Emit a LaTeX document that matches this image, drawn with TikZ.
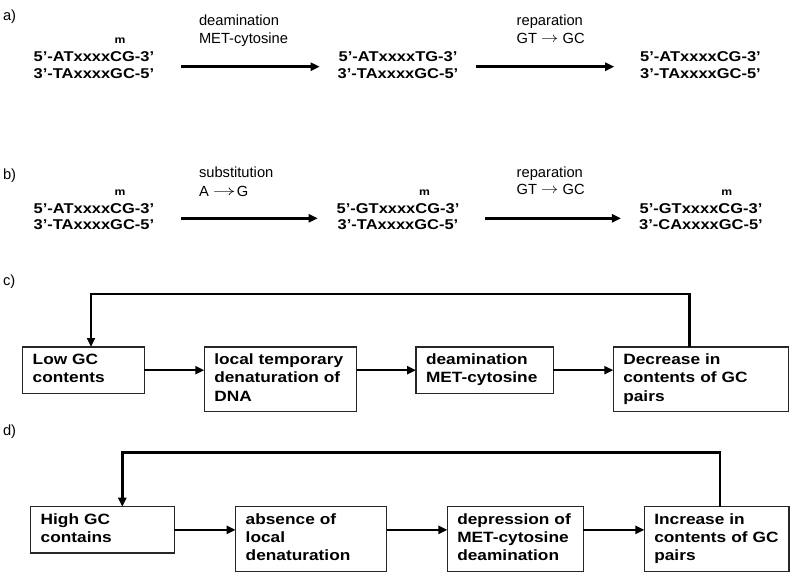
\documentclass[tikz,border=0pt]{standalone}
\usepackage{fontspec}
\usepackage{graphicx}
\setmainfont{Liberation Sans}
\newfontfamily\boxfont[FakeStretch=1.16]{Liberation Sans}
\newcommand{\rarr}[1]{\raisebox{1.3pt}{\scalebox{#1}[1]{$\rightarrow$}}}
\usetikzlibrary{arrows.meta}
\begin{document}
\begin{tikzpicture}[x=1pt,y=-1pt,
  lbl/.style={font=\fontsize{14.7}{17}\selectfont, inner sep=0pt, outer sep=0pt, anchor=base west},
  dna/.style={font=\boxfont\bfseries\fontsize{14.2}{15}\selectfont, inner sep=0pt, outer sep=0pt, anchor=base},
  mmark/.style={font=\boxfont\bfseries\fontsize{10.5}{11}\selectfont, inner sep=0pt, outer sep=0pt, anchor=base},
  stepbox/.style={draw=black!85, line width=1.2pt, inner xsep=10pt, inner ysep=0pt, outer sep=0pt,
    align=left, anchor=north west, font=\boxfont\bfseries\fontsize{14.9}{18.3}\selectfont},
  conn/.style={line width=2.6pt, -{Triangle[length=9pt,width=8pt]}},
]
\useasboundingbox[fill=white] (0,0) rectangle (800,577);

% panel labels
\node[lbl] (la) at (3,21) {a)};
\node[lbl] (lb) at (3,180) {b)};
\node[lbl] (lc) at (3,285) {c)};
\node[lbl] (ld) at (3,435) {d)};

% ---------- a ----------
\node[mmark] (maL) at (120,43.5) {m};
\node[dna] (aL1) at (93.9,61.7) {5’-ATxxxxCG-3’};
\node[dna] (aL2) at (93.9,79) {3’-TAxxxxGC-5’};
\node[dna] (aM1) at (398,61.7) {5’-ATxxxxTG-3’};
\node[dna] (aM2) at (398,79) {3’-TAxxxxGC-5’};
\node[dna] (aR1) at (700.5,61.7) {5’-ATxxxxCG-3’};
\node[dna] (aR2) at (700.5,79) {3’-TAxxxxGC-5’};

\node[lbl] (ta1) at (199,26) {deamination};
\node[lbl] (ta2) at (199,44) {MET-cytosine};
\node[lbl] (ta3) at (516.7,25.5) {reparation};
\node[lbl] (ta4) at (516.7,44) {GT \rarr{1.2} GC};

\draw[conn] ([xshift=27.3pt,yshift=-5pt]aL1.base east) -- ([xshift=-19pt,yshift=-5pt]aM1.base west);
\draw[conn] ([xshift=18.5pt,yshift=-5pt]aM1.base east) -- ([xshift=-26pt,yshift=-5pt]aR1.base west);

% ---------- b ----------
\node[mmark] (mbL) at (120,195.8) {m};
\node[mmark] (mbM) at (424.5,195.8) {m};
\node[mmark] (mbR) at (726.7,195.8) {m};
\node[dna] (bL1) at (93.9,213.3) {5’-ATxxxxCG-3’};
\node[dna] (bL2) at (93.9,230) {3’-TAxxxxGC-5’};
\node[dna] (bM1) at (398,213.3) {5’-GTxxxxCG-3’};
\node[dna] (bM2) at (398,230) {3’-TAxxxxGC-5’};
\node[dna] (bR1) at (701,213.3) {5’-GTxxxxCG-3’};
\node[dna] (bR2) at (701,230) {3’-CAxxxxGC-5’};

\node[lbl] (tb1) at (199,177.7) {substitution};
\node[lbl] (tb2) at (199,196.7) {A\hspace{4pt}\rarr{1.6}\hspace{1pt}G};
\node[lbl] (tb3) at (516.7,177.5) {reparation};
\node[lbl] (tb4) at (516.7,195) {GT \rarr{1.2} GC};

\draw[conn] ([xshift=27.3pt,yshift=-5pt]bL1.base east) -- ([xshift=-19pt,yshift=-5pt]bM1.base west);
\draw[conn] ([xshift=25.8pt,yshift=-5pt]bM1.base east) -- ([xshift=-18.7pt,yshift=-5pt]bR1.base west);

% ---------- c ----------
\node[stepbox, text width=101.6pt, minimum height=46.3pt] (c1) at (22.7,347) {\strut Low GC\\contents\strut};
\node[stepbox, text width=132.4pt, minimum height=64.6pt] (c2) at (204.3,347) {\strut local temporary\\denaturation~of\\DNA\strut};
\node[stepbox, text width=117.3pt, minimum height=46.3pt] (c3) at (416,347) {\strut deamination\\MET-cytosine\strut};
\node[stepbox, text width=155pt, minimum height=64.6pt] (c4) at (613.3,347) {\strut Decrease in\\contents~of~GC\\pairs\strut};

\draw[conn] (c1.east) -- (c1.east -| c2.west);
\draw[conn] (c1.east -| c2.east) -- (c3.west);
\draw[conn] (c3.east) -- (c3.east -| c4.west);

\coordinate (cA) at ([xshift=76pt]c4.north west);
\coordinate (cB) at ([xshift=68.3pt]c1.north west);
\coordinate (cTop) at (0,294);
\draw[conn] (cA) -- (cA |- cTop) -- (cB |- cTop) -- (cB);

% ---------- d ----------
\node[stepbox, text width=123.6pt, minimum height=46.3pt] (d1) at (30.7,506.7) {\strut High GC\\contains\strut};
\node[stepbox, text width=131pt, minimum height=64.6pt] (d2) at (235.7,506.7) {\strut absence~of\\local\\denaturation\strut};
\node[stepbox, text width=116pt, minimum height=64.6pt] (d3) at (447.3,506.7) {\strut depression~of\\MET-cytosine\\deamination\strut};
\node[stepbox, text width=124.7pt, minimum height=64.6pt] (d4) at (644.3,506.7) {\strut Increase in\\contents~of~GC\\pairs\strut};

\draw[conn] (d1.east) -- (d1.east -| d2.west);
\draw[conn] (d1.east -| d2.east) -- (d1.east -| d3.west);
\draw[conn] (d1.east -| d3.east) -- (d1.east -| d4.west);

\coordinate (dA) at ([xshift=75.7pt]d4.north west);
\coordinate (dB) at ([xshift=91.6pt]d1.north west);
\coordinate (dTop) at (0,452.7);
\draw[conn] (dA) -- (dA |- dTop) -- (dB |- dTop) -- (dB);
\end{tikzpicture}
\end{document}
